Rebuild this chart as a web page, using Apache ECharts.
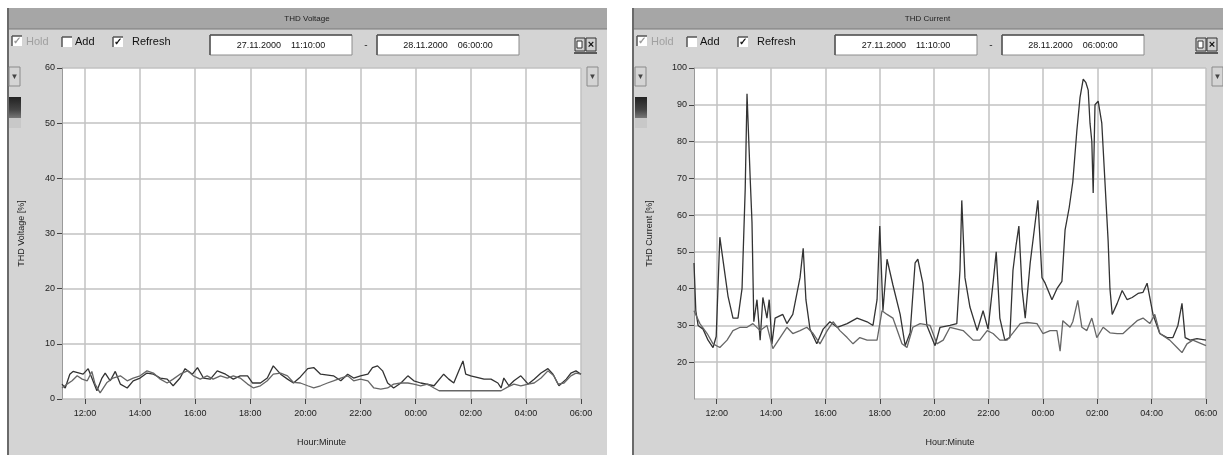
<!DOCTYPE html>
<html><head><meta charset="utf-8">
<script src="https://cdn.jsdelivr.net/npm/echarts@6/dist/echarts.min.js"></script>
<style>html,body{margin:0;padding:0;background:#fff}#c{width:1223px;height:455px}</style>
</head><body><div id="c"></div>
<script>
// ---------- data ----------
const startTime = '11:10';
const endTime = '06:00';
const startDate = '27.11.2000';
const endDate = '28.11.2000';
const xTickLabels = ['12:00','14:00','16:00','18:00','20:00','22:00','00:00','02:00','04:00','06:00'];

const voltageATimes = ['11:10','11:17','11:27','11:34','11:56','12:07','12:15','12:26','12:37','12:44','12:55','13:06','13:17','13:32','13:45','14:00','14:15','14:29','14:44','14:59','15:12','15:27','15:38','15:54','16:05','16:18','16:33','16:48','17:06','17:23','17:38','17:54','18:05','18:22','18:37','18:50','19:06','19:21','19:34','19:49','20:05','20:18','20:33','21:01','21:17','21:32','21:45','22:00','22:16','22:26','22:37','22:48','22:59','23:12','23:28','23:43','23:56','00:11','00:40','01:01','01:12','01:23','01:34','01:43','01:49','02:00','02:29','02:44','02:59','03:06','03:12','03:23','03:34','03:49','04:05','04:18','04:33','04:48','04:59','05:12','05:28','05:38','05:49','06:00'];
const voltageAValues = [2.7,2.0,4.5,5.0,4.5,5.5,3.8,1.5,3.8,4.7,3.3,5.0,2.7,2.0,3.3,3.8,4.7,4.5,3.8,3.6,2.4,3.8,5.5,4.5,5.7,3.8,3.6,5.1,4.5,3.6,4.2,4.2,2.9,2.9,3.8,6.0,4.5,3.6,2.9,4.0,5.5,5.7,4.5,4.2,3.3,4.5,3.8,4.2,4.5,5.7,6.0,5.1,2.9,2.0,2.9,4.2,3.3,2.9,2.4,4.5,3.6,2.9,5.1,6.9,4.5,4.2,3.6,3.6,2.9,2.0,3.8,2.4,3.3,4.2,2.7,3.6,4.7,5.5,4.5,2.4,3.6,4.7,5.1,4.5];

const voltageBTimes = ['11:10','11:21','11:32','11:43','11:54','12:05','12:15','12:22','12:33','12:48','13:01','13:17','13:32','13:45','14:00','14:15','14:29','14:44','14:59','15:12','15:27','15:43','15:56','16:11','16:26','16:39','16:55','17:10','17:23','17:38','17:54','18:07','18:22','18:37','18:50','19:06','19:21','19:34','19:49','20:05','20:18','20:33','20:48','21:01','21:17','21:32','21:45','22:00','22:16','22:29','22:44','22:59','23:12','23:28','23:43','23:56','00:11','00:26','00:40','00:51','01:10','01:54','02:37','03:06','03:21','03:34','03:49','04:05','04:18','04:33','04:48','05:01','05:10','05:23','05:38','05:49','06:00'];
const voltageBValues = [2.0,2.7,3.3,4.2,3.6,3.3,5.0,2.7,1.1,3.0,3.8,4.2,3.3,3.8,4.2,5.1,4.7,3.6,2.9,3.6,4.5,5.1,4.2,3.6,4.2,3.6,4.2,3.8,4.2,3.8,2.7,2.0,2.4,3.3,4.5,4.7,4.2,3.0,2.9,2.4,2.0,2.4,2.9,3.3,3.8,4.2,3.3,3.6,3.3,2.0,1.8,2.0,2.7,2.9,2.9,2.7,2.4,2.7,2.0,1.5,1.5,1.5,1.5,1.5,2.2,2.7,2.4,2.7,2.9,3.8,5.1,4.2,2.7,2.9,4.2,4.7,4.5];

const currentATimes = ['11:10','11:14','11:19','11:30','11:41','11:52','11:59','12:07','12:16','12:25','12:36','12:47','12:56','13:03','13:07','13:14','13:18','13:22','13:29','13:36','13:42','13:51','13:56','14:02','14:09','14:26','14:35','14:48','15:04','15:11','15:17','15:26','15:41','15:55','16:10','16:26','16:48','17:10','17:32','17:45','17:54','18:00','18:07','18:16','18:29','18:45','18:56','19:07','19:18','19:24','19:35','19:44','20:02','20:13','20:35','20:50','20:57','21:01','21:08','21:19','21:35','21:48','21:59','22:10','22:17','22:25','22:36','22:47','22:54','23:01','23:07','23:14','23:21','23:32','23:40','23:49','23:58','00:05','00:20','00:31','00:42','00:49','00:58','01:06','01:15','01:22','01:29','01:35','01:40','01:44','01:48','01:51','01:55','02:02','02:10','02:17','02:24','02:28','02:33','02:44','02:55','03:06','03:17','03:30','03:41','03:50','04:03','04:18','04:34','04:47','04:58','05:07','05:14','05:25','05:40','06:00'];
const currentAValues = [47,34,30,29,26,24,27,54,46,38,32,32,40,67,93,70,58,31,37,26,37.6,32,37,25,32,33,30.5,33,43,51,37,29,25,29,31,29.5,30.5,32,31,30,37,57,34,48,41,33,24.5,28,47,48,41.5,30,24.5,29.5,30,30.5,45,64,43,35,28.6,34,29,41.5,50,32,26,26.7,45,52,57,40,32,47,55,64,43,41.5,37,40,42,56,62,69,83,92,97,96,94,85,80,66,90,91,85,69,53,40,33,36,39.5,37,37.6,38.7,39,41.5,33,27.8,26.7,26.7,30,36,26.7,26,26.4,26];

const currentBTimes = ['11:10','11:23','11:39','11:52','12:07','12:23','12:36','12:52','13:07','13:20','13:36','13:51','14:04','14:20','14:35','14:48','15:04','15:19','15:33','15:48','16:04','16:17','16:32','16:48','17:01','17:16','17:32','17:54','18:05','18:16','18:29','18:49','19:00','19:13','19:29','19:51','20:06','20:20','20:35','21:04','21:26','21:41','21:57','22:10','22:25','22:41','22:54','23:10','23:25','23:47','00:00','00:16','00:31','00:38','00:44','01:00','01:06','01:17','01:26','01:37','01:48','01:59','02:13','02:28','02:44','02:57','03:12','03:28','03:41','03:56','04:07','04:18','04:40','04:56','05:07','05:18','05:31','06:00'];
const currentBValues = [34,30.5,27.8,25,24,26,28.6,29.5,29.5,30.5,28.6,30,23.7,26.7,29.5,27.8,28.6,29.5,27.8,25,28.6,31,28.6,26.7,25,26.7,26,26,34,33,32,25,24,29.5,30.5,30,25,26,29.5,28.6,26,26,28.6,27.8,26,26,28,30.5,30.8,30.5,27.8,28.6,28.6,23,31.3,29.5,31,36.8,29.5,28.6,32,26.7,29.5,28,27.8,27.8,29.5,31.3,32,30.5,33,27.8,26,24,22.6,25,26,24.5];

// ---------- helpers ----------
function toMin(t){ const p=t.split(':'); let m=(+p[0])*60+(+p[1]); if(+p[0]<11) m+=1440; return m; }
function pairs(ts,vs){ return ts.map((t,i)=>[toMin(t),vs[i]]); }
const tickMins = xTickLabels.map(toMin);
const FONT = '"Liberation Sans", Arial, sans-serif';
const GRID_LINE = {color:'#c2c2c2', width:1.5};

function xAxisOpt(gi){
  return {type:'value', gridIndex:gi, min:toMin(startTime), max:toMin(endTime),
    name:'Hour:Minute', nameLocation:'middle', nameGap:39,
    nameTextStyle:{fontSize:9,color:'#222',fontFamily:FONT},
    axisLine:{show:false},
    axisTick:{show:true,length:5,customValues:tickMins,lineStyle:{color:'#444'}},
    axisLabel:{customValues:tickMins,margin:10,fontSize:9,color:'#222',fontFamily:FONT,
      formatter:v=>{const i=tickMins.indexOf(v);return i>=0?xTickLabels[i]:'';}},
    splitLine:{show:true,lineStyle:GRID_LINE}};
}
function yAxisOpt(gi,min,max,name,gap,hideMin){
  return {type:'value', gridIndex:gi, min:min, max:max, interval:10,
    name:name, nameLocation:'middle', nameGap:gap, nameRotate:90,
    nameTextStyle:{fontSize:9,color:'#222',fontFamily:FONT},
    axisLine:{show:true,lineStyle:{color:'#9a9a9a'}},
    axisTick:{show:true,length:5,lineStyle:{color:'#444'}},
    axisLabel:{fontSize:9,color:'#222',fontFamily:FONT,margin:7,showMinLabel:!hideMin},
    splitLine:{show:true,lineStyle:GRID_LINE}};
}

// ---------- panel decorations ----------
const G = [];
function rect(x,y,w,h,fill,stroke,z){ G.push({type:'rect',z:z||-10,silent:true,shape:{x:x,y:y,width:w,height:h},style:{fill:fill,stroke:stroke||null,lineWidth:1}}); }
function line(x1,y1,x2,y2,c,w){ G.push({type:'line',z:-9,silent:true,shape:{x1:x1,y1:y1,x2:x2,y2:y2},style:{stroke:c,lineWidth:w||1}}); }
function txt(x,y,s,size,color,align,bold){ G.push({type:'text',z:-8,silent:true,x:x,y:y,style:{text:s,fill:color||'#111',font:(bold?'bold ':'')+(size||10)+'px '+FONT,textAlign:align||'left',textVerticalAlign:'middle'}}); }
function checkbox(x,y,checked,disabled){
  rect(x,y,10,10,'#fff',null,-9);
  line(x,y,x+10,y,'#555',1.5); line(x,y,x,y+10,'#555',1.5);
  if(checked) txt(x+5,y+5,'✓',10,disabled?'#999':'#111','center',true);
}
function downBtn(x,y,w,h){
  rect(x,y,w,h,'#d4d4d4','#8a8a8a',-9);
  txt(x+w/2,y+h/2,'▼',8,'#444','center');
}
function panel(ox,w,title){
  rect(ox,8,w,447,'#d4d4d4',null,-12);
  line(ox+1,8,ox+1,455,'#6a6a6a',2);
  rect(ox+2,8,w-2,21,'#a6a6a6',null,-11);
  line(ox+2,29,ox+w,29,'#7a7a7a',1);
  txt(ox+w/2,18.5,title,8,'#222','center');
  checkbox(ox+5,36,true,true); txt(ox+19,42,'Hold',11,'#a0a0a0');
  checkbox(ox+55,37,false,false); txt(ox+68,42,'Add',11,'#111');
  checkbox(ox+106,37,true,false); txt(ox+125,42,'Refresh',11,'#111');
  rect(ox+203,35,142,20,'#fff','#8c8c8c',-9);
  line(ox+203,35,ox+345,35,'#555',1.5); line(ox+203,35,ox+203,55,'#555',1.5);
  txt(ox+274,45.5,startDate+'    '+startTime+':00',9,'#111','center');
  txt(ox+359,45,'-',10,'#333','center');
  rect(ox+370,35,142,20,'#fff','#8c8c8c',-9);
  line(ox+370,35,ox+512,35,'#555',1.5); line(ox+370,35,ox+370,55,'#555',1.5);
  txt(ox+441,45.5,endDate+'    '+endTime+':00',9,'#111','center');
}
panel(7,600,'THD Voltage');
panel(632,591,'THD Current');
function icon(x){ rect(x,38,10,13,'#cfcfcf','#333',-9); rect(x+2,41,5,7,'#fff','#333',-9); rect(x+11,38,10,13,'#cfcfcf','#333',-9); txt(x+16,44.5,'×',11,'#111','center',true); line(x-1,53,x+22,53,'#333',1.5); }
icon(575); icon(1196);
downBtn(9,67,11,19); downBtn(587,67,11,19);
downBtn(635,67,11,19); downBtn(1212,67,11,19);
function swatch(x){
  G.push({type:'rect',z:-9,silent:true,shape:{x:x,y:97,width:12,height:21},style:{fill:new echarts.graphic.LinearGradient(0,0,0,1,[{offset:0,color:'#222'},{offset:0.6,color:'#444'},{offset:1,color:'#777'}])}});
  rect(x,118,12,10,'#c8c8c8',null,-9);
}
swatch(9); swatch(635);
rect(62,68,519,331,'#fff',null,-7);
rect(694,68,512,331,'#fff',null,-7);

// ---------- chart ----------
const chart = echarts.init(document.getElementById('c'), null, {renderer:'canvas'});
const LW = 1.3;
chart.setOption({
  animation:false,
  backgroundColor:'#fff',
  graphic:{elements:G},
  grid:[
    {left:62, top:68, width:519, height:331, containLabel:false},
    {left:694, top:68, width:512, height:331, containLabel:false}
  ],
  xAxis:[xAxisOpt(0), xAxisOpt(1)],
  yAxis:[yAxisOpt(0,0,60,'THD Voltage [%]',36,false), yAxisOpt(1,10,100,'THD Current [%]',40,true)],
  series:[
    {type:'line',xAxisIndex:0,yAxisIndex:0,data:pairs(voltageATimes,voltageAValues),showSymbol:false,lineStyle:{color:'#333',width:LW},color:'#333'},
    {type:'line',xAxisIndex:0,yAxisIndex:0,data:pairs(voltageBTimes,voltageBValues),showSymbol:false,lineStyle:{color:'#666',width:LW},color:'#666'},
    {type:'line',xAxisIndex:1,yAxisIndex:1,data:pairs(currentATimes,currentAValues),showSymbol:false,lineStyle:{color:'#333',width:LW},color:'#333'},
    {type:'line',xAxisIndex:1,yAxisIndex:1,data:pairs(currentBTimes,currentBValues),showSymbol:false,lineStyle:{color:'#666',width:LW},color:'#666'}
  ]
});
</script></body></html>
